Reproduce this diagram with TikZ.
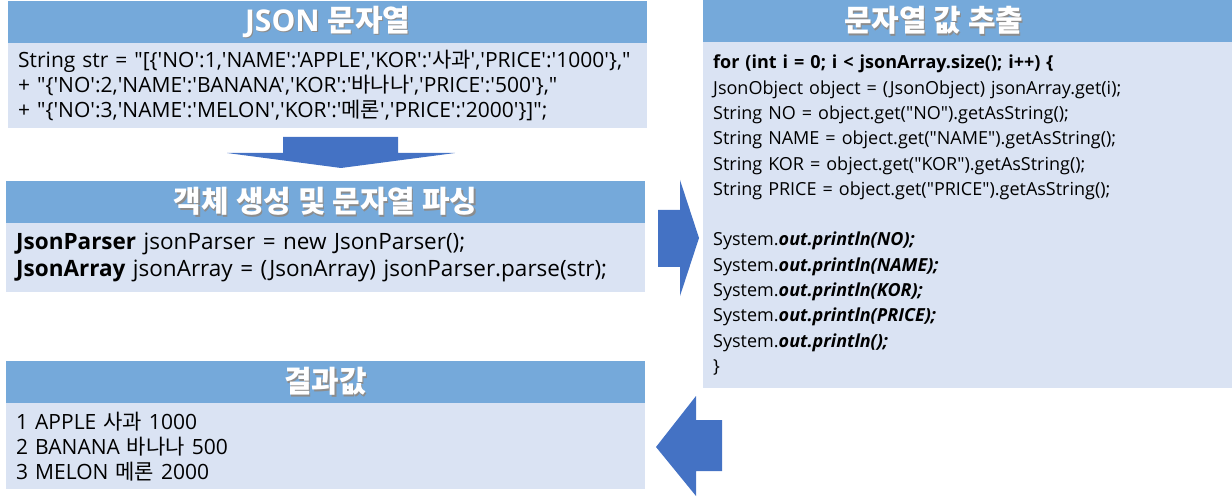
\documentclass[tikz,border=0pt]{standalone}
\usepackage{fontspec}
\setmainfont{Open Sans}[Ligatures=TeXOff]
\newfontfamily\kr{Noto Sans CJK KR}
\usetikzlibrary{positioning}
\definecolor{headblue}{HTML}{75A9DA}
\definecolor{bodyblue}{HTML}{DAE3F3}
\definecolor{arrowblue}{HTML}{4472C4}
\newcommand\shtext[1]{\makebox[0pt][l]{\hspace{1.2pt}\raisebox{-1.2pt}{\textcolor{black!45}{#1}}}#1}
\tikzset{
  head_box/.style={rectangle, fill=headblue, anchor=north west, inner sep=0pt,
    minimum height=42pt, text=white, font=\bfseries\fontsize{30}{32}\selectfont},
  title_text/.style={text=white, font=\bfseries\fontsize{30}{32}\selectfont},
  body_box/.style={rectangle, fill=bodyblue, anchor=north west, inner xsep=10pt,
    inner ysep=0pt, align=left},
  block_arrow/.style={fill=arrowblue}
}
\begin{document}
\begin{tikzpicture}[x=1pt,y=-1pt]
  \useasboundingbox (0,0) rectangle (1232,497);

  % JSON string
  \node[head_box, minimum width=639pt] (json_head) at (8,1) {\shtext{JSON {\kr 문자열}}};
  \node[body_box, text width=619pt, minimum height=85pt, font=\fontsize{21}{25}\selectfont] (json_body) at (8,43)
    {String str = "[\{'NO':1,'NAME':'APPLE','KOR':'{\kr 사과}','PRICE':'1000'\},"\\
     + "\{'NO':2,'NAME':'BANANA','KOR':'{\kr 바나나}','PRICE':'500'\},"\\
     + "\{'NO':3,'NAME':'MELON','KOR':'{\kr 메론}','PRICE':'2000'\}]";};

  % parsing
  \node[head_box, minimum width=639pt] (parse_head) at (6,181) {\shtext{\kr 객체 생성 및 문자열 파싱}};
  \node[body_box, text width=619pt, minimum height=69pt, font=\fontsize{22.5}{27}\selectfont] (parse_body) at (6,223)
    {\textbf{JsonParser} jsonParser = new JsonParser();\\
     \textbf{JsonArray} jsonArray = (JsonArray) jsonParser.parse(str);};

  % result
  \node[head_box, minimum width=639pt] (result_head) at (6,361) {\shtext{\kr 결과값}};
  \node[body_box, text width=619pt, minimum height=86pt, font=\fontsize{21}{25}\selectfont] (result_body) at (6,403)
    {1 APPLE {\kr 사과} 1000\\
     2 BANANA {\kr 바나나} 500\\
     3 MELON {\kr 메론} 2000};

  % value extraction
  \node[head_box, minimum width=529pt,
        label={[title_text, xshift=-34pt]center:\shtext{\kr 문자열 값 추출}}] (extract_head) at (703,0) {};
  \node[body_box, text width=509pt, minimum height=346pt, font=\fontsize{18}{25.3}\selectfont] (extract_body) at (703,42)
    {\textbf{for (int i = 0; i < jsonArray.size(); i++) \{}\\
     JsonObject object = (JsonObject) jsonArray.get(i);\\
     String NO = object.get("NO").getAsString();\\
     String NAME = object.get("NAME").getAsString();\\
     String KOR = object.get("KOR").getAsString();\\
     String PRICE = object.get("PRICE").getAsString();\\
     ~\\
     System.\textbf{\textit{out.println(NO);}}\\
     System.\textbf{\textit{out.println(NAME);}}\\
     System.\textbf{\textit{out.println(KOR);}}\\
     System.\textbf{\textit{out.println(PRICE);}}\\
     System.\textbf{\textit{out.println();}}\\
     \}};

  % block arrows
  \fill[block_arrow] (283,137) -- (398,137) -- (398,153) -- (455,153) -- (341,168)
    -- (227,153) -- (283,153) -- cycle;
  \fill[block_arrow] (658,210) -- (680,210) -- (680,180) -- (699,238) -- (680,296)
    -- (680,267) -- (658,267) -- cycle;
  \fill[block_arrow] (722,420) -- (696,420) -- (696,396) -- (656,447) -- (696,496)
    -- (696,471) -- (722,471) -- cycle;
\end{tikzpicture}
\end{document}
